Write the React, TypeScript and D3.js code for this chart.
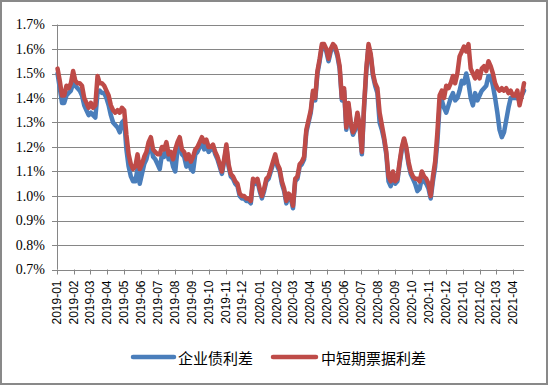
import React from "react";
import * as d3 from "d3";

// Data: spreads (%) sampled every 4 days starting 2019-01-02
const startDate = "2019-01-02";
const stepDays = 4;
const corpBond: number[] = [
  1.50,1.44,1.38,1.38,1.41,1.42,1.43,1.46,1.45,1.44,
  1.43,1.41,1.37,1.35,1.33,1.34,1.33,1.32,1.42,1.43,
  1.42,1.42,1.40,1.37,1.33,1.30,1.29,1.28,1.26,1.30,
  1.31,1.19,1.12,1.08,1.06,1.06,1.11,1.05,1.09,1.13,
  1.15,1.19,1.21,1.16,1.15,1.13,1.11,1.17,1.16,1.20,
  1.15,1.16,1.12,1.10,1.19,1.22,1.17,1.16,1.12,1.15,
  1.11,1.10,1.17,1.18,1.20,1.22,1.19,1.21,1.18,1.19,
  1.20,1.17,1.15,1.12,1.09,1.14,1.20,1.12,1.08,1.07,
  1.05,1.04,1.00,0.99,0.99,0.98,0.98,0.97,1.06,1.05,
  1.06,1.02,0.99,1.02,1.06,1.07,1.10,1.13,1.16,1.12,
  1.10,1.05,1.02,0.97,1.00,0.99,0.95,1.06,1.07,1.12,
  1.13,1.15,1.26,1.30,1.34,1.42,1.39,1.50,1.55,1.61,
  1.61,1.59,1.55,1.59,1.61,1.60,1.57,1.52,1.39,1.43,
  1.27,1.37,1.29,1.25,1.27,1.33,1.28,1.17,1.36,1.51,
  1.61,1.57,1.49,1.45,1.42,1.30,1.27,1.23,1.17,1.06,
  1.04,1.09,1.05,1.06,1.13,1.19,1.23,1.19,1.13,1.09,
  1.07,1.05,1.02,1.03,1.07,1.06,1.05,1.03,0.99,1.06,
  1.12,1.22,1.37,1.39,1.36,1.34,1.37,1.40,1.42,1.39,
  1.40,1.43,1.47,1.46,1.50,1.46,1.40,1.37,1.42,1.39,
  1.41,1.43,1.44,1.45,1.49,1.49,1.45,1.40,1.34,1.27,
  1.24,1.26,1.31,1.36,1.40,1.40,1.40,1.40,1.39,1.41,
  1.43,
];
const mtnBill: number[] = [
  1.52,1.47,1.41,1.41,1.45,1.44,1.46,1.51,1.47,1.46,
  1.46,1.45,1.40,1.38,1.36,1.38,1.36,1.37,1.49,1.46,
  1.46,1.45,1.43,1.41,1.37,1.35,1.34,1.35,1.34,1.36,
  1.35,1.25,1.17,1.13,1.11,1.12,1.17,1.11,1.13,1.16,
  1.18,1.22,1.24,1.19,1.18,1.17,1.17,1.20,1.19,1.22,
  1.17,1.18,1.15,1.19,1.22,1.24,1.19,1.18,1.15,1.17,
  1.14,1.16,1.19,1.20,1.22,1.24,1.22,1.23,1.20,1.20,
  1.21,1.18,1.16,1.13,1.10,1.15,1.21,1.13,1.09,1.08,
  1.06,1.05,1.01,1.00,1.00,0.99,0.99,0.98,1.07,1.06,
  1.07,1.03,1.00,1.03,1.07,1.08,1.11,1.14,1.17,1.13,
  1.11,1.06,1.03,0.98,1.01,1.00,0.96,1.07,1.08,1.13,
  1.14,1.16,1.27,1.31,1.35,1.43,1.40,1.51,1.56,1.62,
  1.62,1.60,1.56,1.60,1.62,1.61,1.58,1.53,1.40,1.44,
  1.28,1.38,1.30,1.26,1.28,1.34,1.29,1.18,1.37,1.52,
  1.62,1.58,1.50,1.46,1.44,1.34,1.29,1.24,1.18,1.08,
  1.06,1.10,1.06,1.07,1.14,1.20,1.235,1.20,1.14,1.10,
  1.08,1.07,1.07,1.06,1.10,1.08,1.07,1.05,1.00,1.08,
  1.14,1.26,1.41,1.43,1.40,1.45,1.44,1.46,1.49,1.46,
  1.50,1.57,1.59,1.61,1.59,1.62,1.52,1.50,1.48,1.51,
  1.48,1.52,1.53,1.51,1.55,1.53,1.50,1.46,1.44,1.43,
  1.44,1.43,1.44,1.42,1.43,1.41,1.41,1.43,1.37,1.41,
  1.46,
];
const yTicks = [0.7, 0.8, 0.9, 1.0, 1.1, 1.2, 1.3, 1.4, 1.5, 1.6, 1.7];
const monthLabels = [
  "2019-01","2019-02","2019-03","2019-04","2019-05","2019-06","2019-07","2019-08","2019-09","2019-10","2019-11","2019-12",
  "2020-01","2020-02","2020-03","2020-04","2020-05","2020-06","2020-07","2020-08","2020-09","2020-10","2020-11","2020-12",
  "2021-01","2021-02","2021-03","2021-04",
];
const seriesNames = ["企业债利差", "中短期票据利差"];
const seriesColors = ["#4A7EBB", "#BE4B48"];
const xDomain = ["2019-01-01", "2021-04-21"];

export default function App() {
  const W = 549, H = 386;
  const left = 57, right = 524, top = 24.5, bottom = 269.5;
  const parse = (s: string) => new Date(s + "T00:00:00Z");
  const x = d3.scaleUtc().domain(xDomain.map(parse)).range([left, right]);
  const y = d3.scaleLinear().domain([0.7, 1.7]).range([bottom, top]);
  const start = parse(startDate);
  const dateAt = (i: number) => d3.utcDay.offset(start, i * stepDays);
  const line = d3
    .line<number>()
    .x((_, i) => x(dateAt(i)))
    .y((v) => y(v))
    .curve(d3.curveLinear);
  const series = [corpBond, mtnBill];
  const monthDates = monthLabels.map((m) => parse(m + "-01"));

  return (
    <svg width={W} height={H} style={{ position: "absolute", left: 0, top: 0 }}>
      <rect x={0} y={0} width={W} height={H} fill="#fff" />
      <rect x={1} y={1} width={546} height={383} fill="none" stroke="#898989" strokeWidth={2} />
      {yTicks.map((t) => (
        <g key={t}>
          <line x1={left - 5} x2={right} y1={Math.round(y(t)) + 0.5} y2={Math.round(y(t)) + 0.5} stroke="#868686" strokeWidth={1} />
          <text
            x={45}
            y={y(t)}
            textAnchor="end"
            dominantBaseline="central"
            fontFamily="'Liberation Serif', 'Times New Roman', serif"
            fontSize={14}
            fill="#000"
          >
            {t.toFixed(1) + "%"}
          </text>
        </g>
      ))}
      <line x1={left + 0.5} x2={left + 0.5} y1={top} y2={bottom} stroke="#868686" />
      {monthDates.map((d, i) => {
        const xx = Math.round(x(d)) + 0.5;
        return (
          <g key={monthLabels[i]}>
            <line x1={xx} x2={xx} y1={bottom} y2={bottom + 5} stroke="#868686" />
            <text
              transform={`translate(${x(d)},${bottom + 11}) rotate(-90)`}
              textAnchor="end"
              dominantBaseline="central"
              fontFamily="'Liberation Sans', Arial, sans-serif"
              fontSize={12}
              fill="#000"
            >
              {monthLabels[i]}
            </text>
          </g>
        );
      })}
      {series.map((s, k) => (
        <path
          key={k}
          d={line(s) || ""}
          fill="none"
          stroke={seriesColors[k]}
          strokeWidth={4.5}
          strokeLinejoin="round"
          strokeLinecap="round"
        />
      ))}
      {[
        { x1: 133, x2: 174, tx: 178 },
        { x1: 273, x2: 316, tx: 321 },
      ].map((l, k) => (
        <g key={k}>
          <line x1={l.x1} x2={l.x2} y1={357} y2={357} stroke={seriesColors[k]} strokeWidth={4.5} strokeLinecap="round" />
          <text
            x={l.tx}
            y={357}
            dominantBaseline="central"
            fontFamily="'Noto Sans CJK SC', sans-serif"
            fontSize={15}
            fill="#000"
          >
            {seriesNames[k]}
          </text>
        </g>
      ))}
    </svg>
  );
}
